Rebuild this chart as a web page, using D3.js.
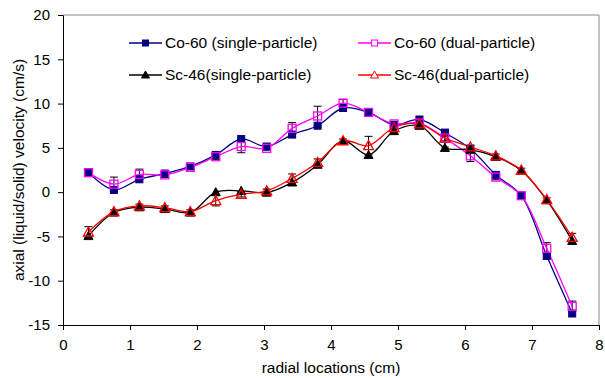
<!DOCTYPE html>
<html>
<head>
<meta charset="UTF-8" />
<style>
  body { margin: 0; padding: 0; background: #fff; }
  svg { font-family: "Liberation Sans", Arial, sans-serif; }
  .tick text { font-size: 15px; fill: #000; }
</style>
</head>
<body>
<svg id="chart" width="605" height="378"></svg>
<script src="https://d3js.org/d3.v7.min.js"></script>
<script>
  // radial positions (cm)
  const radial = [0.38, 0.76, 1.14, 1.52, 1.9, 2.28, 2.66, 3.04, 3.42, 3.8,
                  4.18, 4.56, 4.94, 5.32, 5.7, 6.08, 6.46, 6.84, 7.22, 7.6];

  const coSingle = [2.2, 0.25, 1.45, 2.1, 2.9, 4.2, 6.0, 5.15, 6.5, 7.5,
                    9.5, 9.0, 7.6, 8.2, 6.7, 4.9, 1.95, -0.4, -7.2, -13.7];
  const coDual   = [2.2, 0.9, 2.0, 1.95, 2.8, 4.0, 5.15, 4.95, 7.2, 8.6,
                    10.05, 9.0, 7.7, 7.8, 6.1, 4.1, 1.7, -0.4, -6.35, -12.9];
  const coDualErr = [0.3, 0.8, 0.6, 0.3, 0.2, 0.3, 0.7, 0.2, 0.65, 1.1,
                     0.4, 0.3, 0.2, 0.2, 1.0, 0.65, 0.3, 0.2, 0.65, 0.6];

  const scSingle = [-4.95, -2.3, -1.7, -1.9, -2.3, 0.0, 0.15, -0.05, 1.1, 3.1,
                    5.8, 4.2, 6.9, 7.5, 5.0, 4.8, 4.0, 2.45, -0.9, -5.5];
  const scDual   = [-4.5, -2.2, -1.55, -1.75, -2.2, -0.95, -0.25, 0.15, 1.55, 3.35,
                    5.8, 5.25, 7.3, 7.7, 6.1, 5.1, 4.1, 2.5, -0.85, -5.1];
  const scDualErr = [0.6, 0.2, 0.2, 0.2, 0.2, 0.6, 0.3, 0.2, 0.5, 0.4,
                     0.2, 1.05, 0.2, 0.2, 0.3, 0.2, 0.2, 0.2, 0.2, 0.45];

  const xTicks = [0, 1, 2, 3, 4, 5, 6, 7, 8];
  const yTicks = [-15, -10, -5, 0, 5, 10, 15, 20];

  const series = [
    { name: "Co-60 (single-particle)", values: coSingle, color: "#000080", shape: "square", filled: true },
    { name: "Co-60 (dual-particle)", values: coDual, err: coDualErr, color: "#ff00ff", shape: "square", filled: false },
    { name: "Sc-46(single-particle)", values: scSingle, color: "#000000", shape: "triangle", filled: true },
    { name: "Sc-46(dual-particle)", values: scDual, err: scDualErr, color: "#ff0000", shape: "triangle", filled: false }
  ];

  const svg = d3.select("#chart");
  const pl = 63, pr = 599, pt = 15, pb = 325;

  const x = d3.scaleLinear().domain([0, 8]).range([pl, pr]);
  const y = d3.scaleLinear().domain([-15, 20]).range([pb, pt]);

  // plot frame (top and right in gray)
  svg.append("path")
    .attr("d", `M${pl},${pt}H${pr}V${pb}`)
    .attr("fill", "none")
    .attr("stroke", "#888")
    .attr("stroke-width", 1);

  const xAxis = svg.append("g")
    .attr("transform", `translate(0,${pb})`)
    .call(d3.axisBottom(x).tickValues(xTicks).tickFormat(d => String(d))
      .tickSize(5).tickSizeOuter(0).tickPadding(9));
  const yAxis = svg.append("g")
    .attr("transform", `translate(${pl},0)`)
    .call(d3.axisLeft(y).tickValues(yTicks).tickFormat(d => String(d))
      .tickSize(5).tickSizeOuter(0).tickPadding(8));
  [xAxis, yAxis].forEach(a => {
    a.select(".domain").attr("stroke", "#000");
    a.selectAll(".tick line").attr("stroke", "#000");
  });

  svg.append("text")
    .attr("x", (pl + pr) / 2)
    .attr("y", 373)
    .attr("text-anchor", "middle")
    .attr("font-size", 15.5)
    .text("radial locations (cm)");

  svg.append("text")
    .attr("transform", `translate(24,${(pt + pb) / 2}) rotate(-90)`)
    .attr("text-anchor", "middle")
    .attr("font-size", 15.5)
    .text("axial (liquid/solid) velocity (cm/s)");

  const line = d3.line()
    .x((d, i) => x(radial[i]))
    .y(d => y(d))
    .curve(d3.curveCatmullRom.alpha(0.5));

  function marker(g, s, cx, cy) {
    if (s.shape === "square") {
      const h = s.filled ? 3.5 : 4;
      g.append("rect")
        .attr("x", cx - h).attr("y", cy - h)
        .attr("width", 2 * h).attr("height", 2 * h)
        .attr("fill", s.filled ? s.color : "none")
        .attr("stroke", s.color)
        .attr("stroke-width", s.filled ? 1 : 1.3);
    } else {
      const r = s.filled ? 4.5 : 5;
      g.append("path")
        .attr("d", `M${cx},${cy - r}L${cx + r},${cy + r * 0.8}L${cx - r},${cy + r * 0.8}Z`)
        .attr("fill", s.filled ? s.color : "none")
        .attr("stroke", s.color)
        .attr("stroke-width", s.filled ? 1 : 1.3);
    }
  }

  // error bars (dual-particle series)
  series.filter(s => s.err).forEach(s => {
    const g = svg.append("g").attr("stroke", "#000").attr("stroke-width", 1);
    s.values.forEach((v, i) => {
      const cx = x(radial[i]);
      const y1 = y(v + s.err[i]), y2 = y(v - s.err[i]);
      g.append("line").attr("x1", cx).attr("x2", cx).attr("y1", y1).attr("y2", y2);
      g.append("line").attr("x1", cx - 4).attr("x2", cx + 4).attr("y1", y1).attr("y2", y1);
      g.append("line").attr("x1", cx - 4).attr("x2", cx + 4).attr("y1", y2).attr("y2", y2);
    });
  });

  series.forEach(s => {
    svg.append("path")
      .attr("d", line(s.values))
      .attr("fill", "none")
      .attr("stroke", s.color)
      .attr("stroke-width", 1.3);
  });
  series.forEach(s => {
    const g = svg.append("g");
    s.values.forEach((v, i) => marker(g, s, x(radial[i]), y(v)));
  });

  // legend
  const legendPos = [[129, 43], [358, 43], [129, 75], [358, 75]];
  series.forEach((s, i) => {
    const [lx, ly] = legendPos[i];
    const g = svg.append("g");
    g.append("line")
      .attr("x1", lx).attr("x2", lx + 33)
      .attr("y1", ly).attr("y2", ly)
      .attr("stroke", s.color).attr("stroke-width", 1.3);
    if (s.shape === "square") {
      g.append("rect")
        .attr("x", lx + 13.5).attr("y", ly - 3)
        .attr("width", 6).attr("height", 6)
        .attr("fill", s.filled ? s.color : "#fff")
        .attr("stroke", s.color);
    } else {
      g.append("path")
        .attr("d", `M${lx + 16.5},${ly - 4}L${lx + 20.5},${ly + 3}L${lx + 12.5},${ly + 3}Z`)
        .attr("fill", s.filled ? s.color : "#fff")
        .attr("stroke", s.color);
    }
    g.append("text")
      .attr("x", lx + 36)
      .attr("y", ly + 5)
      .attr("font-size", 15.5)
      .text(s.name);
  });
</script>
</body>
</html>
